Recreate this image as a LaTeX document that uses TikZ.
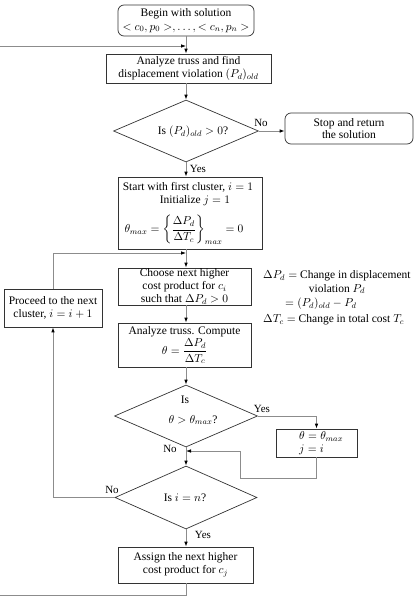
\RequirePackage{fix-cm}
\documentclass[tikz,border=0pt]{standalone}
\usepackage{amsmath}
\usepackage{fontspec}
\setmainfont{Liberation Serif}
\usetikzlibrary{arrows.meta,shapes.geometric,calc}

\begin{document}
\begin{tikzpicture}[x=1pt,y=-1pt,
  every node/.style={font=\fontsize{11.5}{12.8}\selectfont, inner sep=0pt},
  box/.style={draw=black!80, line width=0.7pt, rectangle, align=center},
  rbox/.style={box, rounded corners=6pt},
  dia/.style={draw=black!80, line width=0.7pt, diamond, aspect=2.3, inner sep=0pt},
  conn/.style={draw=black!45, line width=0.8pt},
  arr/.style={conn, -{Latex[length=5pt,width=3.6pt,color=black]}},
  lbl/.style={font=\fontsize{11}{12}\selectfont}
]
\useasboundingbox (0,0) rectangle (418,605);
\clip (0,0) rectangle (418,605);

% column coordinate
\coordinate (col) at (186,0);

% boxes
\node[rbox, minimum width=136pt, minimum height=31pt] (begin) at (186,20.5)
  {Begin with solution\\[1pt]$<c_0,p_0>,\ldots,<c_n,p_n>$};
\node[box, minimum width=165pt, minimum height=29pt] (an1) at (188.5,68.5)
  {Analyze truss and find\\displacement violation $(P_d)_{old}$};
\node[dia, minimum width=145pt, minimum height=62pt] (d1) at (186,131) {};
\node (d1t) at (193,132) {Is $(P_d)_{old}>0$?};
\node[rbox, minimum width=128pt, minimum height=31pt] (stop) at (349,128.5)
  {Stop and return\\the solution};
\node[box, minimum width=144pt, minimum height=72pt] (start) at (190,213) {};
\node (st1) at (188,187.5) {Start with first cluster, $i=1$};
\node (st2) at (195,200.5) {Initialize $j=1$};
\node (st3) at (184,230)
  {$\theta_{max}=\biggl\{\dfrac{\Delta P_d}{\Delta T_c}\biggr\}_{max}=0$};
\node[box, minimum width=98pt, minimum height=38pt] (proc) at (53,308)
  {Proceed to the next\\cluster, $i=i+1$};
\node[box, minimum width=133pt, minimum height=37pt] (choose) at (184.5,286.5)
  {Choose next higher\\cost product for $c_i$\\such that $\Delta P_d>0$};
\node[box, minimum width=133pt, minimum height=44pt] (an2) at (184.5,345)
  {Analyze truss. Compute\\[1pt]$\theta=\dfrac{\Delta P_d}{\Delta T_c}$};
\node[dia, minimum width=143pt, minimum height=62pt] (d2) at (186,416) {};
\node (d2a) at (185,400) {Is};
\node (d2b) at (193,420) {$\theta>\theta_{max}$?};
\node[box, minimum width=81pt, minimum height=28pt] (tb) at (316.5,443) {};
\node[anchor=west, align=left] (tbt) at (299,443) {$\theta=\theta_{max}$\\$j=i$};
\node[dia, minimum width=142pt, minimum height=63pt] (d3) at (186,497.5) {};
\node (d3t) at (185,498) {Is $i=n$?};
\node[box, minimum width=135pt, minimum height=36pt] (asg) at (185.5,565)
  {Assign the next higher\\cost product for $c_j$};

% annotations
\node[anchor=west] (a1) at (263,276) {$\Delta P_d=$ Change in displacement};
\node (a2) at (337,289) {violation $P_d$};
\node[anchor=west] (a3) at (285,304) {$=(P_d)_{old}-P_d$};
\node[anchor=west] (a4) at (263,320) {$\Delta T_c=$ Change in total cost $T_c$};

% helper coordinates
\coordinate (m0) at (186,46);
\coordinate (tl) at (-10,46);
\coordinate (bl) at (-10,595);
\coordinate (m1) at (186,253);
\coordinate (r2) at (240,478);
\coordinate (m2) at (186,451);

% connectors
\draw[arr] (col |- begin.south) -- (col |- an1.north);
\draw[arr] (col |- an1.south) -- (d1.north);
\draw[arr] (d1.east) -- (d1.east -| stop.west);
\draw[arr] (d1.south) -- (col |- start.north);
\draw[arr] (col |- start.south) -- (col |- choose.north);
\draw[arr] (proc.north) |- (m1);
\draw[arr] (col |- choose.south) -- (col |- an2.north);
\draw[arr] (col |- an2.south) -- (d2.north);
\draw[arr] (d2.east) -| (tb.north);
\draw[arr] (tb.south) |- (r2) |- (m2);
\draw[arr] (d2.south) -- (d3.north);
\draw[arr] (d3.west) -| (proc.south);
\draw[arr] (d3.south) -- (col |- asg.north);
\draw[arr] (col |- asg.south) |- (bl) -- (tl) -- (m0);

% labels
\node[lbl] (no1) at (261,123) {No};
\node[lbl] (yes1) at (198,169) {Yes};
\node[lbl] (yes2) at (262,409) {Yes};
\node[lbl] (no2) at (170,449) {No};
\node[lbl] (no3) at (112,490) {No};
\node[lbl] (yes3) at (203,535) {Yes};
\end{tikzpicture}
\end{document}
